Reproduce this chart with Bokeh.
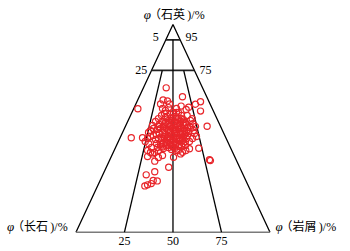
from bokeh.plotting import figure
from bokeh.models import Range1d, ColumnDataSource
from bokeh.core.properties import value
from bokeh.embed import file_html
from bokeh.resources import INLINE

# ---- data: sample positions in the triangle (x: % along base from 长石 corner, q: % of height toward 石英) ----
pt_x = [46.5, 44.9, 43.6, 47.2, 48.2, 44.6, 46.1, 47.7, 54.9, 54.2, 56.8, 58.1, 61.6, 64.2, 64.2, 31.9,
        57.3, 59.9, 60.2, 60.7, 67.6, 59.0, 51.8, 50.3, 52.8, 28.5, 34.3, 35.7, 37.5, 39.4, 41.0, 38.4,
        39.9, 36.9, 38.9, 39.4, 40.5, 40.6, 36.9, 36.2, 40.6, 35.5, 36.9, 38.8, 39.8, 41.9, 47.8, 50.3,
        68.8, 69.3, 63.3, 58.5, 56.6, 53.9, 54.9, 42.5, 43.6, 41.5, 45.1, 62.1, 60.1, 58.5, 61.1, 57.5,
        56.4, 59.0, 56.4, 61.6, 42.5, 44.1, 45.6, 47.2, 48.7, 51.3, 52.8, 54.4, 55.4, 43.0, 44.6, 46.1,
        47.7, 49.2, 50.8, 52.3, 53.9, 55.9, 57.5, 42.0, 43.6, 45.1, 46.6, 48.2, 49.7, 51.3, 52.8, 54.4,
        55.9, 58.0, 41.5, 43.0, 44.6, 46.1, 47.7, 49.2, 50.8, 52.3, 53.9, 55.4, 57.0, 41.0, 42.5, 44.1,
        45.6, 47.2, 48.7, 50.3, 51.8, 53.4, 54.9, 43.6, 45.1, 46.6, 48.2, 49.7, 51.3, 52.8, 54.4, 38.4,
        37.4, 39.9, 46.1, 51.8, 49.7, 47.7, 51.3, 53.4, 42.0, 36.9, 38.4, 49.2, 51.8, 56.4, 42.5, 44.6,
        49.0, 50.5, 52.1, 53.6, 55.2, 47.4, 45.6, 48.7, 50.3, 51.8, 53.4, 54.9, 56.4, 47.2, 48.7, 51.8,
        53.4, 54.9, 50.3, 46.9, 45.4, 43.8, 44.6, 47.7, 50.8, 52.8, 55.4, 57.0, 54.4, 57.0, 48.7, 52.3,
        50.8, 47.7, 45.6, 42.5, 53.9, 49.2, 52.3, 55.4]
pt_q = [69.5, 63.7, 61.7, 63.2, 61.7, 59.6, 58.6, 60.0, 65.2, 60.7, 59.1, 60.2, 61.6, 62.8, 58.3, 59.4,
        56.2, 54.6, 52.2, 49.0, 51.0, 50.4, 59.6, 57.6, 57.6, 45.5, 45.5, 43.7, 42.6, 51.4, 53.3, 49.0,
        46.6, 45.1, 40.8, 37.7, 38.4, 34.2, 36.4, 27.6, 29.1, 22.3, 22.8, 23.4, 24.9, 24.7, 31.3, 36.1,
        34.9, 34.5, 40.4, 40.2, 39.3, 37.7, 38.5, 39.3, 41.3, 42.7, 40.3, 46.1, 45.1, 43.7, 47.5, 46.6,
        41.7, 53.8, 52.8, 50.9, 54.7, 56.2, 57.2, 55.7, 56.7, 55.7, 54.7, 56.2, 54.3, 51.9, 53.3, 52.8,
        53.8, 52.8, 53.3, 52.3, 53.3, 51.4, 50.4, 49.5, 49.9, 50.9, 49.9, 50.9, 49.9, 50.4, 49.5, 50.4,
        49.0, 48.5, 47.0, 47.5, 48.0, 47.0, 48.0, 47.0, 47.5, 46.6, 47.5, 46.1, 45.1, 44.6, 45.1, 44.2,
        45.1, 44.2, 44.6, 43.7, 44.6, 43.7, 44.2, 42.2, 42.7, 41.7, 42.2, 41.3, 42.2, 41.3, 41.7, 46.1,
        48.0, 49.9, 55.2, 57.6, 54.7, 46.1, 48.5, 45.5, 40.8, 39.3, 38.4, 39.8, 39.3, 43.7, 36.0, 36.9,
        55.0, 51.6, 54.0, 51.4, 52.6, 51.9, 49.0, 48.7, 45.8, 47.8, 48.5, 47.5, 47.3, 45.6, 43.2, 43.0,
        42.2, 45.1, 44.9, 43.2, 46.1, 45.8, 41.0, 40.8, 40.3, 39.3, 42.7, 49.0, 54.7, 51.9, 51.4, 50.9,
        49.5, 49.5, 51.6, 50.9, 44.6, 41.7, 45.6, 49.9]

# ---- diagram structure ----
corner_left = (0, 0)      # 长石
corner_right = (100, 0)   # 岩屑
corner_top = (50, 100)    # 石英
q_line_pos = [92.6, 77.9]            # horizontal quartz lines
q_left_labels = ["5", "25"]
q_right_labels = ["95", "75"]
base_pos = [25, 50, 75]              # radial lines from the base
base_labels = ["25", "50", "75"]
radial_stop = [77.9, 92.6, 77.9]     # where each radial line ends

RED = "#e8262b"
SERIF = "Liberation Serif"
TITLE_FONT = "Liberation Serif, Noto Sans CJK SC"

p = figure(width=350, height=251, output_backend="svg", toolbar_location=None,
           x_range=Range1d(-38.9, 141.5), y_range=Range1d(-9.29, 111.55),
           x_axis_type=None, y_axis_type=None, min_border=0)
p.grid.visible = False
p.outline_line_color = None
p.background_fill_color = "white"
p.border_fill_color = "white"

# triangle sides
p.line([corner_left[0], corner_top[0], corner_right[0]], [corner_left[1], corner_top[1], corner_right[1]],
       line_color="black", line_width=1.3)
p.line([corner_left[0], corner_right[0]], [corner_left[1], corner_right[1]],
       line_color="#7a7a7a", line_width=1.6)

# horizontal quartz lines
for q in q_line_pos:
    p.line([q / 2, 100 - q / 2], [q, q], line_color="#222222", line_width=1.6)

# radial lines
for b, qs in zip(base_pos, radial_stop):
    xe = b + (corner_top[0] - b) * qs / 100
    p.line([b, xe], [0, qs], line_color="black", line_width=1.3)

# points
src = ColumnDataSource(dict(x=pt_x, y=pt_q))
p.scatter("x", "y", source=src, marker="circle", size=6.2, fill_color=None,
          line_color=RED, line_width=1.2)

# tick labels
p.text(x=[42.7, 36.7], y=[93.9, 78.3], text=q_left_labels, text_align="right", text_baseline="middle",
       text_font=value(SERIF), text_font_size="12px", text_color="black")
p.text(x=[56.4, 63.7], y=[93.9, 78.3], text=q_right_labels, text_align="left", text_baseline="middle",
       text_font=value(SERIF), text_font_size="12px", text_color="black")
p.text(x=base_pos, y=[-4.0] * 3, text=base_labels, text_align="center", text_baseline="middle",
       text_font=value(SERIF), text_font_size="12px", text_color="black")

# titles: italic φ + rest
titles = ["（石英\u2009)/%", "（长石\u2009)/%", "（岩屑\u2009)/%"]
phi_x = [34.9, -35.5, 102.8]
rest_x = [37.6, -33.0, 105.4]
title_y = [104.8, 2.7, 2.7]
p.text(x=phi_x, y=title_y, text=["φ"] * 3, text_align="left", text_baseline="middle",
       text_font=value(SERIF), text_font_style="italic", text_font_size="13px", text_color="black")
p.text(x=rest_x, y=title_y, text=titles, text_align="left", text_baseline="middle",
       text_font=value(TITLE_FONT), text_font_size="12px", text_color="black")

open("out.html", "w").write(file_html(p, INLINE))
